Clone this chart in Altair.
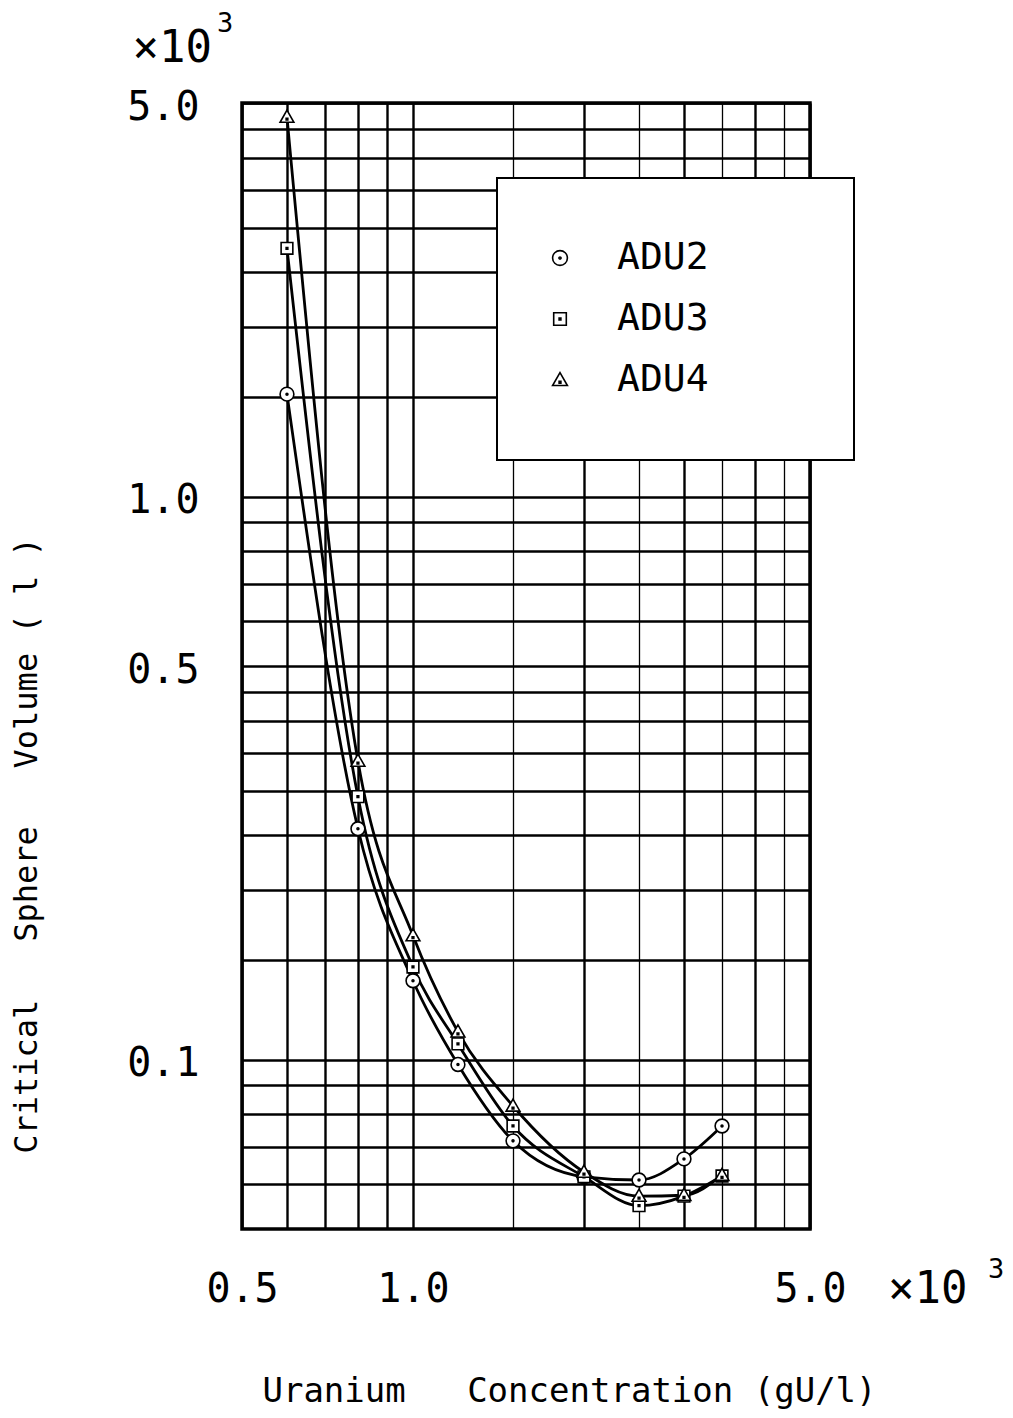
import altair as alt
import pandas as pd

# ---- data (units x10^3) ----
conc = [0.6, 0.8, 1.0, 1.2, 1.5, 2.0, 2.5, 3.0, 3.5]
adu2 = [1.52, 0.257, 0.138, 0.098, 0.0717, 0.0619, 0.0611, 0.0666, 0.0762]
adu3 = [2.76, 0.293, 0.146, 0.1066, 0.0762, 0.0619, 0.0550, 0.0572, 0.0621]
adu4 = [4.72, 0.339, 0.166, 0.112, 0.0827, 0.0631, 0.0572, 0.0574, 0.0623]
series_names = ["ADU2", "ADU3", "ADU4"]

x_grid = [0.5, 0.6, 0.7, 0.8, 0.9, 1.0, 1.5, 2.0, 2.5, 3.0, 3.5, 4.0, 4.5, 5.0]
y_grid = [0.06, 0.07, 0.08, 0.09, 0.1, 0.15, 0.2, 0.25, 0.3, 0.35, 0.4, 0.45,
          0.5, 0.6, 0.7, 0.8, 0.9, 1.0, 1.5, 2.0, 2.5, 3.0, 3.5, 4.0, 4.5, 5.0]
x_labels = [0.5, 1.0, 5.0]
y_labels = [0.1, 0.5, 1.0, 5.0]
exp_base = ["\u00d710"]
exp_power = ["3"]

x_title = "Uranium\u00a0\u00a0\u00a0Concentration\u00a0(gU/l)"
y_title = "Critical\u00a0\u00a0\u00a0Sphere\u00a0\u00a0\u00a0Volume\u00a0(\u00a0l\u00a0)"

# symbols: open shapes with a dot in the centre
shape_paths = [
    "M -1,0 A 1,1 0 1,0 1,0 A 1,1 0 1,0 -1,0 Z M -0.14,0 A 0.14,0.14 0 1,0 0.14,0 A 0.14,0.14 0 1,0 -0.14,0 Z",
    "M -0.85,-0.85 H 0.85 V 0.85 H -0.85 Z M -0.12,-0.12 H 0.12 V 0.12 H -0.12 Z",
    "M 0,-1 L 1,0.75 L -1,0.75 Z M -0.12,0.18 H 0.12 V 0.42 H -0.12 Z",
]

rows = []
for name, vals in zip(series_names, [adu2, adu3, adu4]):
    for c, v in zip(conc, vals):
        rows.append({"series": name, "conc": c, "vol": v})
df = pd.DataFrame(rows)

FONT = "DejaVu Sans Mono"

x_label_test = " || ".join(f"datum.value == {v}" for v in x_labels)
y_label_test = " || ".join(f"datum.value == {v}" for v in y_labels)

x_enc = alt.X(
    "conc:Q",
    scale=alt.Scale(type="log", domain=[0.5, 5.0], nice=False),
    axis=alt.Axis(
        values=x_grid,
        labelExpr=f"({x_label_test}) ? format(datum.value, '.1f') : ''",
        labelFontSize=40, labelFont=FONT, labelPadding=40,
        labelFlush=False, labelOverlap=False, labelBound=False,
        ticks=False, domain=False,
        grid=True, gridColor="black", gridOpacity=1,
        gridWidth={"condition": {"test": "datum.value > 1.2 && datum.value % 1 != 0", "value": 1.3}, "value": 2.4},
        title=x_title, titleFont=FONT, titleFontSize=34, titleFontWeight="normal",
        titleX=327, titleY=172, titleBaseline="alphabetic", titleAlign="center",
    ),
)
y_enc = alt.Y(
    "vol:Q",
    scale=alt.Scale(type="log", domain=[0.05, 5.0], nice=False),
    axis=alt.Axis(
        values=y_grid,
        labelExpr=f"({y_label_test}) ? format(datum.value, '.1f') : ''",
        labelFontSize=40, labelFont=FONT, labelPadding=43, labelOffset=4,
        labelFlush=False, labelOverlap=False, labelBound=False,
        ticks=False, domain=False,
        grid=True, gridColor="black", gridOpacity=1, gridWidth=2.4,
        title=y_title, titleFont=FONT, titleFontSize=32, titleFontWeight="normal",
        titleX=-206, titleY=742, titleAngle=270, titleBaseline="alphabetic", titleAlign="center",
    ),
)

base = alt.Chart(df)

lines = base.mark_line(color="black", strokeWidth=2.8, interpolate="monotone").encode(
    x=x_enc, y=y_enc, detail="series:N"
)

legend = alt.Legend(
    title=None, orient="none", legendX=255, legendY=75,
    padding=61, rowPadding=23, labelOffset=38, symbolOffset=-17,
    labelFont=FONT, labelFontSize=38, labelLimit=400,
    labelExpr="datum.label + '\u2800\u2800\u2800'",
    symbolSize=220, symbolStrokeWidth=1.6, symbolOpacity=1,
    symbolFillColor="white", symbolStrokeColor="black",
    strokeColor="black", fillColor="white",
)

points = base.mark_point(
    filled=False, fill="white", strokeWidth=1.6, opacity=1, fillOpacity=1, size=190
).encode(
    x=x_enc,
    y=y_enc,
    color=alt.Color(
        "series:N",
        scale=alt.Scale(domain=series_names, range=["black", "black", "black"]),
        legend=legend,
    ),
    shape=alt.Shape(
        "series:N",
        scale=alt.Scale(domain=series_names, range=shape_paths),
        legend=legend,
    ),
)

ybase_txt = alt.Chart(pd.DataFrame({"t": exp_base})).mark_text(
    font=FONT, fontSize=44, align="right", baseline="alphabetic", dx=-30, dy=-41, color="black"
).encode(x=alt.datum(0.5), y=alt.datum(5.0), text="t:N")
ypow_txt = alt.Chart(pd.DataFrame({"t": exp_power})).mark_text(
    font=FONT, fontSize=27, align="left", baseline="alphabetic", dx=-25, dy=-71, color="black"
).encode(x=alt.datum(0.5), y=alt.datum(5.0), text="t:N")
xbase_txt = alt.Chart(pd.DataFrame({"t": exp_base})).mark_text(
    font=FONT, fontSize=44, align="left", baseline="alphabetic", dx=78, dy=74, color="black"
).encode(x=alt.datum(5.0), y=alt.datum(0.05), text="t:N")
xpow_txt = alt.Chart(pd.DataFrame({"t": exp_power})).mark_text(
    font=FONT, fontSize=27, align="left", baseline="alphabetic", dx=178, dy=49, color="black"
).encode(x=alt.datum(5.0), y=alt.datum(0.05), text="t:N")

chart = alt.layer(lines, points, ybase_txt, ypow_txt, xbase_txt, xpow_txt).properties(
    width=568,
    height=1126,
    autosize=alt.AutoSizeParams(type="none"),
    padding={"left": 234, "top": 95, "right": 195, "bottom": 181},
    background="white",
).configure_view(stroke="black", strokeWidth=3.5).configure_legend(strokeWidth=2)

chart.save("out.html", embed_options={"renderer": "svg", "actions": False})
